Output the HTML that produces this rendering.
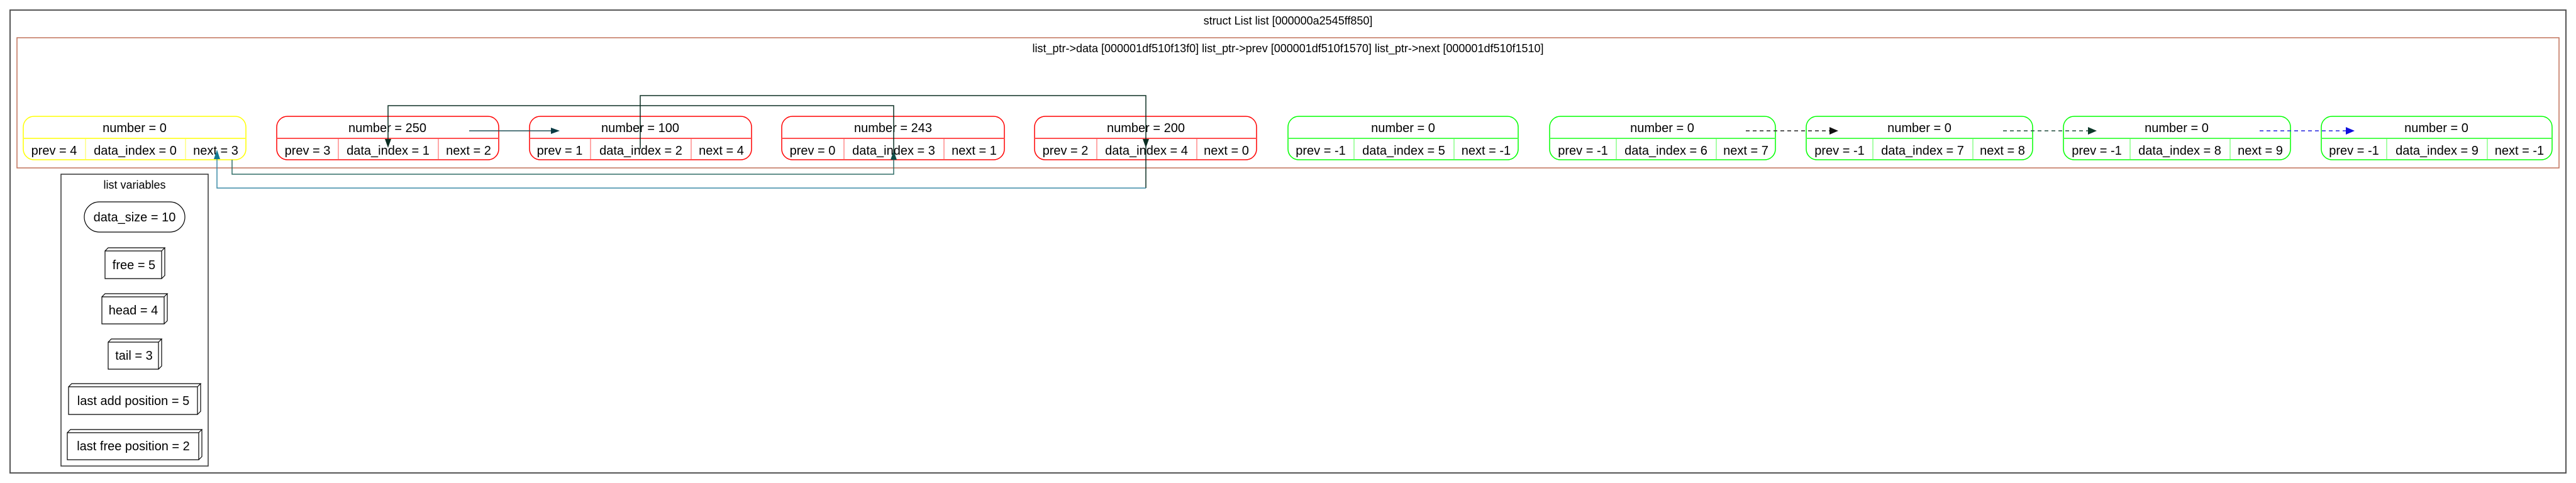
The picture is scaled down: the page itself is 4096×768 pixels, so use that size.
<!DOCTYPE html>
<html><head><meta charset="utf-8"><style>
html,body{margin:0;padding:0;background:#fff;width:4096px;height:768px;overflow:hidden}
svg{display:block}
text{font-family:"Liberation Sans",Arial,sans-serif;fill:#000}
</style></head><body>
<svg width="4096" height="768" viewBox="0 0 4096 768" xmlns="http://www.w3.org/2000/svg">
<rect x="16" y="16" width="4064" height="736" fill="none" stroke="#555" stroke-width="2"/>
<text x="2048" y="39" font-size="18" text-anchor="middle">struct List list [000000a2545ff850]</text>
<rect x="27" y="60" width="4042" height="207" fill="none" stroke="#c07058" stroke-width="1.5"/>
<text x="2048" y="83" font-size="18" text-anchor="middle">list_ptr-&gt;data [000001df510f13f0] list_ptr-&gt;prev [000001df510f1570] list_ptr-&gt;next [000001df510f1510]</text>

<g font-size="20" text-anchor="middle">
<rect x="37" y="185" width="354" height="69" rx="17" fill="none" stroke="#ffff00" stroke-width="1.5"/>
<line x1="37" y1="220" x2="391" y2="220" stroke="#ffff40" stroke-width="2"/>
<line x1="136" y1="220" x2="136" y2="254" stroke="#ffff40"/><line x1="295" y1="220" x2="295" y2="254" stroke="#ffff40"/>
<text x="214" y="210">number = 0</text><text x="86" y="246">prev = 4</text><text x="215" y="246">data_index = 0</text><text x="343" y="246">next = 3</text>

<rect x="440" y="185" width="353" height="69" rx="17" fill="none" stroke="#ff0000" stroke-width="1.5"/>
<line x1="440" y1="220" x2="793" y2="220" stroke="#ff5050" stroke-width="2"/>
<line x1="538" y1="220" x2="538" y2="254" stroke="#ff5050"/><line x1="697" y1="220" x2="697" y2="254" stroke="#ff5050"/>
<text x="616" y="210">number = 250</text><text x="489" y="246">prev = 3</text><text x="617" y="246">data_index = 1</text><text x="745" y="246">next = 2</text>

<rect x="842" y="185" width="353" height="69" rx="17" fill="none" stroke="#ff0000" stroke-width="1.5"/>
<line x1="842" y1="220" x2="1195" y2="220" stroke="#ff5050" stroke-width="2"/>
<line x1="939" y1="220" x2="939" y2="254" stroke="#ff5050"/><line x1="1099" y1="220" x2="1099" y2="254" stroke="#ff5050"/>
<text x="1018" y="210">number = 100</text><text x="890" y="246">prev = 1</text><text x="1019" y="246">data_index = 2</text><text x="1147" y="246">next = 4</text>

<rect x="1243" y="185" width="354" height="69" rx="17" fill="none" stroke="#ff0000" stroke-width="1.5"/>
<line x1="1243" y1="220" x2="1597" y2="220" stroke="#ff5050" stroke-width="2"/>
<line x1="1342" y1="220" x2="1342" y2="254" stroke="#ff5050"/><line x1="1501" y1="220" x2="1501" y2="254" stroke="#ff5050"/>
<text x="1420" y="210">number = 243</text><text x="1292" y="246">prev = 0</text><text x="1421" y="246">data_index = 3</text><text x="1549" y="246">next = 1</text>

<rect x="1645" y="185" width="353" height="69" rx="17" fill="none" stroke="#ff0000" stroke-width="1.5"/>
<line x1="1645" y1="220" x2="1998" y2="220" stroke="#ff5050" stroke-width="2"/>
<line x1="1744" y1="220" x2="1744" y2="254" stroke="#ff5050"/><line x1="1903" y1="220" x2="1903" y2="254" stroke="#ff5050"/>
<text x="1822" y="210">number = 200</text><text x="1694" y="246">prev = 2</text><text x="1823" y="246">data_index = 4</text><text x="1950" y="246">next = 0</text>

<rect x="2048" y="185" width="366" height="69" rx="17" fill="none" stroke="#00ff00" stroke-width="1.5"/>
<line x1="2048" y1="220" x2="2414" y2="220" stroke="#50ff50" stroke-width="2"/>
<line x1="2153" y1="220" x2="2153" y2="254" stroke="#50ff50"/><line x1="2312" y1="220" x2="2312" y2="254" stroke="#50ff50"/>
<text x="2231" y="210">number = 0</text><text x="2100" y="246">prev = -1</text><text x="2232" y="246">data_index = 5</text><text x="2363" y="246">next = -1</text>

<rect x="2464" y="185" width="359" height="69" rx="17" fill="none" stroke="#00ff00" stroke-width="1.5"/>
<line x1="2464" y1="220" x2="2823" y2="220" stroke="#50ff50" stroke-width="2"/>
<line x1="2570" y1="220" x2="2570" y2="254" stroke="#50ff50"/><line x1="2729" y1="220" x2="2729" y2="254" stroke="#50ff50"/>
<text x="2643" y="210">number = 0</text><text x="2517" y="246">prev = -1</text><text x="2649" y="246">data_index = 6</text><text x="2776" y="246">next = 7</text>

<rect x="2872" y="185" width="360" height="69" rx="17" fill="none" stroke="#00ff00" stroke-width="1.5"/>
<line x1="2872" y1="220" x2="3232" y2="220" stroke="#50ff50" stroke-width="2"/>
<line x1="2978" y1="220" x2="2978" y2="254" stroke="#50ff50"/><line x1="3137" y1="220" x2="3137" y2="254" stroke="#50ff50"/>
<text x="3052" y="210">number = 0</text><text x="2925" y="246">prev = -1</text><text x="3057" y="246">data_index = 7</text><text x="3184" y="246">next = 8</text>

<rect x="3281" y="185" width="361" height="69" rx="17" fill="none" stroke="#00ff00" stroke-width="1.5"/>
<line x1="3281" y1="220" x2="3642" y2="220" stroke="#50ff50" stroke-width="2"/>
<line x1="3387" y1="220" x2="3387" y2="254" stroke="#50ff50"/><line x1="3546" y1="220" x2="3546" y2="254" stroke="#50ff50"/>
<text x="3461" y="210">number = 0</text><text x="3334" y="246">prev = -1</text><text x="3466" y="246">data_index = 8</text><text x="3594" y="246">next = 9</text>

<rect x="3691" y="185" width="367" height="69" rx="17" fill="none" stroke="#00ff00" stroke-width="1.5"/>
<line x1="3691" y1="220" x2="4058" y2="220" stroke="#50ff50" stroke-width="2"/>
<line x1="3795" y1="220" x2="3795" y2="254" stroke="#50ff50"/><line x1="3955" y1="220" x2="3955" y2="254" stroke="#50ff50"/>
<text x="3874" y="210">number = 0</text><text x="3743" y="246">prev = -1</text><text x="3875" y="246">data_index = 9</text><text x="4006" y="246">next = -1</text>
</g>

<g fill="none" stroke-width="1.5">
<polyline points="1018,237 1018,152 1822,152 1822,299" stroke="#0b2e22"/>
<polyline points="1822,299 345,299 345,252" stroke="#3a8aa5"/>
<polyline points="1421,252 1421,277 369,277 369,254" stroke="#2e6b66"/>
<polyline points="617,221 617,168 1421,168 1421,242" stroke="#0b2e22"/>
<line x1="746" y1="208" x2="877" y2="208" stroke="#1e4e55"/>
<line x1="2776" y1="208" x2="2910" y2="208" stroke="#222" stroke-dasharray="6,5"/>
<line x1="3185" y1="208" x2="3321" y2="208" stroke="#1f4a3a" stroke-dasharray="6,5"/>
<line x1="3593" y1="208" x2="3731" y2="208" stroke="#2222dd" stroke-dasharray="6,5"/>
</g>
<g stroke="none">
<polygon points="345,238 340,253 350,253" fill="#137a92"/>
<polygon points="1421,240 1416,254 1426,254" fill="#0e4e48"/>
<polygon points="617,235 612,221 622,221" fill="#0b2e22"/>
<polygon points="1822,235 1817,221 1827,221" fill="#0b2e22"/>
<polygon points="890,208 876,203 876,213" fill="#0b3b44"/>
<polygon points="2923,208 2909,202 2909,214" fill="#111"/>
<polygon points="3334,208 3320,202 3320,214" fill="#0e3a2a"/>
<polygon points="3744,208 3730,202 3730,214" fill="#1010dd"/>
</g>

<rect x="97" y="277" width="234" height="464" fill="none" stroke="#333" stroke-width="1.5"/>
<g font-size="20" text-anchor="middle">
<text x="214" y="300" font-size="18">list variables</text>
<rect x="134" y="321" width="160" height="48" rx="24" fill="none" stroke="#000" stroke-width="1.2"/>
<text x="214" y="352">data_size = 10</text>
<g fill="none" stroke="#000" stroke-width="1.2">
<path d="M167,399 h90 v44 h-90 z M167,399 l5,-5 h90 l-5,5 M257,443 l5,-5 v-44"/>
<path d="M162,472 h99 v43 h-99 z M162,472 l5,-5 h99 l-5,5 M261,515 l5,-5 v-43"/>
<path d="M172,544 h80 v43 h-80 z M172,544 l5,-5 h80 l-5,5 M252,587 l5,-5 v-43"/>
<path d="M109,615 h205 v44 h-205 z M109,615 l5,-5 h205 l-5,5 M314,659 l5,-5 v-44"/>
<path d="M107,688 h209 v43 h-209 z M107,688 l5,-5 h209 l-5,5 M316,731 l5,-5 v-43"/>
</g>
<text x="213" y="428">free = 5</text>
<text x="212" y="500">head = 4</text>
<text x="213" y="572">tail = 3</text>
<text x="212" y="644">last add position = 5</text>
<text x="212" y="716">last free position = 2</text>
</g>
</svg>
</body></html>
